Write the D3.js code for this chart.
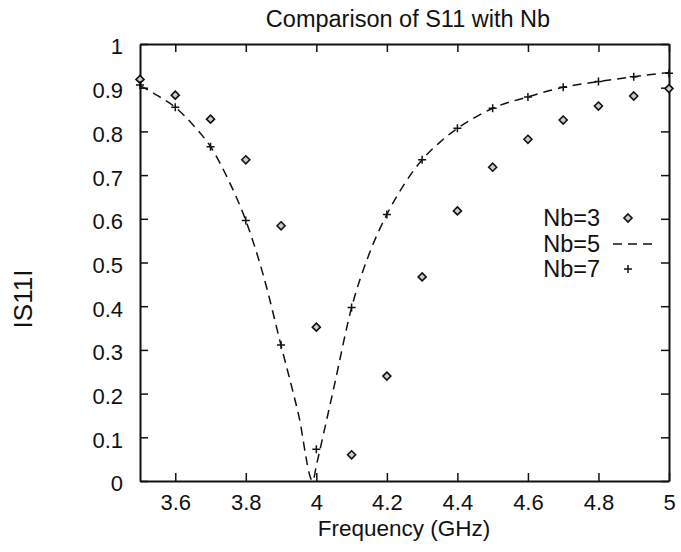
<!DOCTYPE html>
<html>
<head>
<meta charset="utf-8">
<script src="https://cdn.jsdelivr.net/npm/d3@7"></script>
<style>
  body { margin: 0; background: #fff; }
  text { font-family: "Liberation Sans", Arial, sans-serif; fill: #111; }
</style>
</head>
<body>
<div id="chart"></div>
<script>
// sampled frequencies (GHz) for the point series
const freqPts = [3.5, 3.6, 3.7, 3.8, 3.9, 4.0, 4.1, 4.2, 4.3, 4.4, 4.5, 4.6, 4.7, 4.8, 4.9, 5.0];
const s11Nb3 = [0.919, 0.883, 0.828, 0.735, 0.584, 0.352, 0.06, 0.24, 0.467, 0.618, 0.718, 0.782, 0.826, 0.858, 0.881, 0.898];
const s11Nb7 = [0.906, 0.855, 0.765, 0.596, 0.311, 0.0725, 0.397, 0.61, 0.735, 0.807, 0.853, 0.879, 0.901, 0.914, 0.925, 0.933];

// Nb=5 curve
const freqNb5 = [3.5, 3.55, 3.6, 3.65, 3.7, 3.75, 3.8, 3.85, 3.9, 3.95, 3.99, 4.0, 4.05, 4.1, 4.15, 4.2, 4.25, 4.3, 4.35, 4.4, 4.45, 4.5, 4.6, 4.7, 4.8, 4.9, 5.0];
const s11Nb5 = [0.905, 0.882, 0.855, 0.815, 0.765, 0.69, 0.596, 0.47, 0.31, 0.15, 0.0, 0.035, 0.215, 0.397, 0.52, 0.61, 0.68, 0.735, 0.775, 0.807, 0.832, 0.853, 0.879, 0.901, 0.914, 0.925, 0.935];

const xTicks = [3.6, 3.8, 4.0, 4.2, 4.4, 4.6, 4.8, 5.0];
const yTicks = [0, 0.1, 0.2, 0.3, 0.4, 0.5, 0.6, 0.7, 0.8, 0.9, 1];
const legendLabels = ['Nb=3', 'Nb=5', 'Nb=7'];

const width = 681, height = 552;
const margin = { top: 44, right: 12, bottom: 71, left: 140 };
const ink = '#111';

const svg = d3.select('#chart').append('svg')
  .attr('width', width)
  .attr('height', height);

const x = d3.scaleLinear().domain([3.5, 5]).range([margin.left, width - margin.right]);
const y = d3.scaleLinear().domain([0, 1]).range([height - margin.bottom, margin.top]);

const fmt = d => String(Math.round(d * 10) / 10);

// axes, ticks pointing inward on all four sides
const axes = svg.append('g');
axes.append('g')
  .attr('class', 'x-axis')
  .attr('transform', `translate(0,${y(0)})`)
  .call(d3.axisBottom(x).tickValues(xTicks).tickFormat(fmt).tickSizeInner(-8).tickSizeOuter(0).tickPadding(13));
axes.append('g')
  .attr('transform', `translate(0,${y(1)})`)
  .call(d3.axisTop(x).tickValues(xTicks).tickFormat('').tickSizeInner(-8).tickSizeOuter(0));
axes.append('g')
  .attr('class', 'y-axis')
  .attr('transform', `translate(${x(3.5)},0)`)
  .call(d3.axisLeft(y).tickValues(yTicks).tickFormat(fmt).tickSizeInner(-8).tickSizeOuter(0).tickPadding(17));
axes.append('g')
  .attr('transform', `translate(${x(5)},0)`)
  .call(d3.axisRight(y).tickValues(yTicks).tickFormat('').tickSizeInner(-8).tickSizeOuter(0));

axes.selectAll('.domain').attr('stroke', ink).attr('stroke-width', 2);
axes.selectAll('.tick line').attr('stroke', ink).attr('stroke-width', 1.5);
axes.selectAll('.tick text').style('font-size', '22px').attr('fill', ink);
axes.selectAll('.y-axis .tick text').attr('dy', '0.45em');

// Nb=5 dashed curve
const line = d3.line()
  .x((d, i) => x(freqNb5[i]))
  .y(d => y(d))
  .curve(d3.curveMonotoneX);

svg.append('path')
  .datum(s11Nb5)
  .attr('d', line)
  .attr('fill', 'none')
  .attr('stroke', ink)
  .attr('stroke-width', 1.5)
  .attr('stroke-dasharray', '9,6');

// Nb=3 diamonds
const diamond = (cx, cy) => `M${cx},${cy - 4}L${cx + 4},${cy}L${cx},${cy + 4}L${cx - 4},${cy}Z`;
svg.append('g').selectAll('path')
  .data(s11Nb3)
  .join('path')
  .attr('d', (d, i) => diamond(x(freqPts[i]), y(d)))
  .attr('fill', '#ccc')
  .attr('stroke', ink)
  .attr('stroke-width', 1.6);

// Nb=7 plus marks
const plus = (cx, cy) => `M${cx - 4},${cy}H${cx + 4}M${cx},${cy - 4}V${cy + 4}`;
svg.append('g').selectAll('path')
  .data(s11Nb7)
  .join('path')
  .attr('d', (d, i) => plus(x(freqPts[i]), y(d)))
  .attr('fill', 'none')
  .attr('stroke', ink)
  .attr('stroke-width', 1.5);

// legend
const legend = svg.append('g');
const legendBase = [226, 252, 277];
const legendMark = [218, 244, 269];
legend.selectAll('text')
  .data(legendLabels)
  .join('text')
  .attr('x', 600)
  .attr('y', (d, i) => legendBase[i])
  .attr('text-anchor', 'end')
  .style('font-size', '23.5px')
  .text(d => d);
legend.append('path')
  .attr('d', diamond(628, legendMark[0]))
  .attr('fill', '#ccc').attr('stroke', ink).attr('stroke-width', 1.6);
legend.append('line')
  .attr('x1', 613).attr('x2', 658)
  .attr('y1', legendMark[1]).attr('y2', legendMark[1])
  .attr('stroke', ink).attr('stroke-width', 1.5)
  .attr('stroke-dasharray', '9,6');
legend.append('path')
  .attr('d', plus(628, legendMark[2]))
  .attr('stroke', ink).attr('stroke-width', 1.5);

// titles
svg.append('text')
  .attr('x', 408).attr('y', 27)
  .attr('text-anchor', 'middle')
  .style('font-size', '23.5px')
  .text('Comparison of S11 with Nb');

svg.append('text')
  .attr('x', 404).attr('y', 536)
  .attr('text-anchor', 'middle')
  .style('font-size', '22.5px')
  .text('Frequency (GHz)');

svg.append('text')
  .attr('transform', 'translate(32,299) rotate(-90)')
  .attr('text-anchor', 'middle')
  .style('font-size', '26px')
  .text('IS11I');
</script>
</body>
</html>
